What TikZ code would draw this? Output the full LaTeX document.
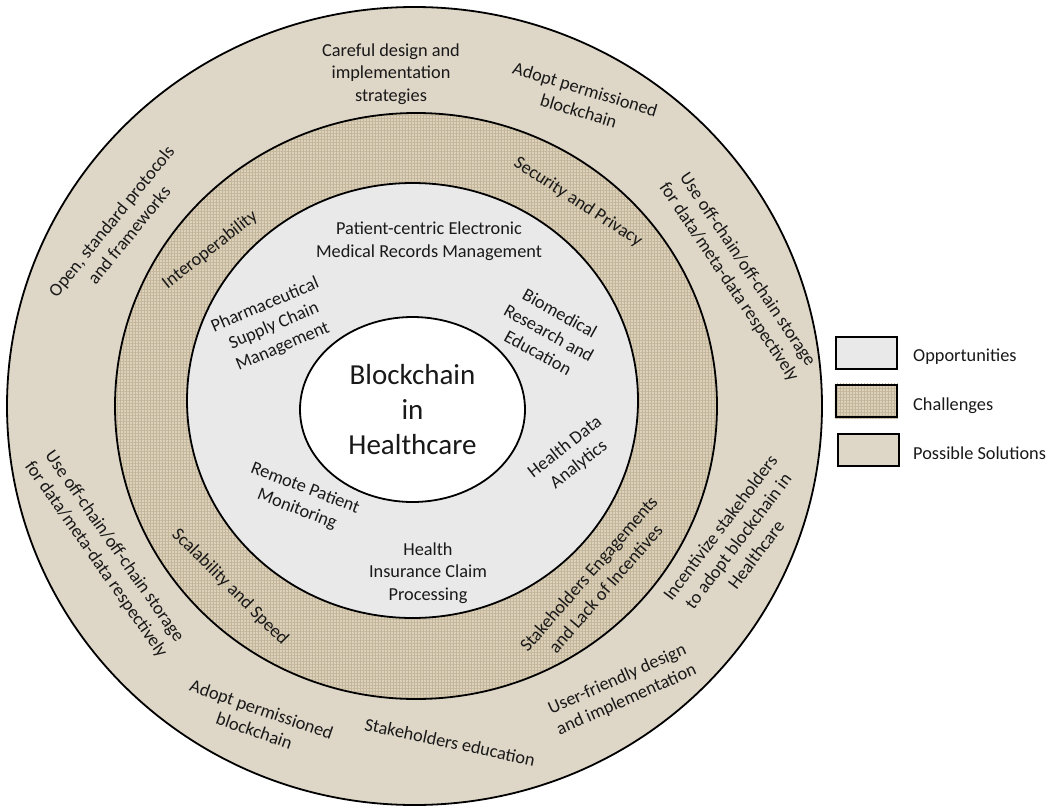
\documentclass[tikz,border=0pt]{standalone}
\usepackage{fontspec}
\setmainfont{Carlito}
\usetikzlibrary{shapes.geometric,patterns.meta}
\definecolor{solcol}{RGB}{222,214,199}
\definecolor{chalcol}{RGB}{220,209,186}
\definecolor{gridcol}{RGB}{196,182,155}
\definecolor{oppcol}{RGB}{233,233,233}
\definecolor{txtcol}{RGB}{25,25,25}
\begin{document}
\begin{tikzpicture}[x=1pt,y=-1pt,
  lbl/.style={align=center, inner sep=0pt, font=\fontsize{18.3}{22.5}\selectfont, text=txtcol},
  ring/.style={draw=black, line width=1.8pt},
  gridfill/.style={pattern={Lines[distance=3pt,angle=0,line width=0.5pt]}, pattern color=gridcol},
  gridfillv/.style={pattern={Lines[distance=3pt,angle=90,line width=0.5pt]}, pattern color=gridcol},
  core/.style={ellipse, draw=black, line width=1.8pt, fill=white, minimum width=225pt, minimum height=185pt, inner sep=0pt, align=center, font=\fontsize{29}{35}\selectfont, text=txtcol},
  legbox/.style={draw=black, line width=2.2pt, minimum width=61pt, minimum height=32pt, inner sep=0pt}]

\useasboundingbox (0,0) rectangle (1057,808);
\fill[white] (0,0) rectangle (1057,808);

% rings
\draw[ring, fill=solcol] (414.5,406) ellipse [x radius=407.5pt, y radius=399pt];
\fill[chalcol] (416,406) ellipse [x radius=301pt, y radius=293pt];
\fill[gridfill] (416,406) ellipse [x radius=301pt, y radius=293pt];
\fill[gridfillv] (416,406) ellipse [x radius=301pt, y radius=293pt];
\draw[ring] (416,406) ellipse [x radius=301pt, y radius=293pt];
\draw[ring, fill=oppcol] (412.5,400.5) ellipse [x radius=225.5pt, y radius=217.5pt];
\node[core] (core) at (412.5,409.5) {Blockchain\\in\\Healthcare};

% possible solutions
\node[lbl] (s1) at (391,74) {Careful design and\\implementation\\strategies};
\node[lbl, rotate=-17] (s2) at (582,100) {Adopt permissioned\\blockchain};
\node[lbl, rotate=-56] (s3) at (738,276) {Use off-chain/off-chain storage\\for data/meta-data respectively};
\node[lbl, rotate=51] (s4) at (120,228) {Open, standard protocols\\and frameworks};
\node[lbl, rotate=-55] (s5) at (105,553) {Use off-chain/off-chain storage\\for data/meta-data respectively};
\node[lbl, rotate=-19] (s6) at (258,720) {Adopt permissioned\\blockchain};
\node[lbl, rotate=-12] (s7) at (450,742) {Stakeholders education};
\node[lbl, rotate=24] (s8) at (622,690) {User-friendly design\\and implementation};
\node[lbl, rotate=53] (s9) at (738,541) {Incentivize stakeholders\\to adopt blockchain in\\Healthcare};

% challenges
\node[lbl, rotate=38] (c1) at (210,250) {Interoperability};
\node[lbl, rotate=-33] (c2) at (578,202) {Security and Privacy};
\node[lbl, rotate=-45] (c3) at (230,587) {Scalability and Speed};
\node[lbl, rotate=49] (c4) at (597,581) {Stakeholders Engagements\\and Lack of Incentives};

% opportunities
\node[lbl] (o1) at (429,241) {Patient-centric Electronic\\Medical Records Management};
\node[lbl, rotate=23] (o2) at (274,326) {Pharmaceutical\\Supply Chain\\Management};
\node[lbl, rotate=-29] (o3) at (549,333) {Biomedical\\Research and\\Education};
\node[lbl, rotate=38] (o4) at (572,456) {Health Data\\Analytics};
\node[lbl, rotate=-21] (o5) at (301,499) {Remote Patient\\Monitoring};
\node[lbl] (o6) at (428,573) {Health\\Insurance Claim\\Processing};

% legend
\node[legbox, fill=oppcol] (l1) at (866.5,353) {};
\node[legbox, fill=chalcol] (l2) at (866.5,401) {};
\fill[gridfill] (l2.south west) rectangle (l2.north east);
\fill[gridfillv] (l2.south west) rectangle (l2.north east);
\node[legbox] (l2b) at (866.5,401) {};
\node[legbox, fill=solcol] (l3) at (868.5,450) {};
\node[lbl, anchor=base west] (t1) at (913,361) {Opportunities};
\node[lbl, anchor=base west] (t2) at (913,410) {Challenges};
\node[lbl, anchor=base west] (t3) at (913,459) {Possible Solutions};
\end{tikzpicture}
\end{document}
